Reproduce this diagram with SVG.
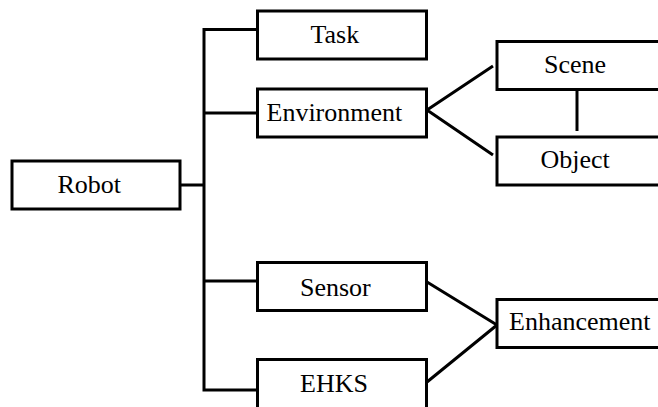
<svg xmlns="http://www.w3.org/2000/svg" width="658" height="407" viewBox="0 0 658 407">
<style>
.box{fill:#fff;stroke:#000;stroke-width:3}
.lbl{font-family:'Liberation Serif',Tinos,'Times New Roman',Times,'DejaVu Serif',serif;font-size:26px;fill:#000}
.con{fill:none;stroke:#000;stroke-width:3}
</style>
<rect width="658" height="407" fill="#fff"/>
<g id="connectors">
<path class="con" d="M181,185 H204 M257,29.5 H204 V390 H257 M204,113 H257 M204,281 H257"/>
<path class="con" d="M427,110 L493,66 M427,110 L493,155"/>
<path class="con" d="M577,89 V131"/>
<path class="con" d="M427,282 L497,325 M427,382 L497,325"/>
</g>
<g id="robot"><rect class="box" x="12" y="161" width="168" height="48"/><text class="lbl" font-family="Liberation Serif, serif" x="57.5" y="193">Robot</text></g>
<g id="task"><rect class="box" x="257.5" y="11" width="169" height="48"/><text class="lbl" x="310.5" y="43">Task</text></g>
<g id="environment"><rect class="box" x="257.5" y="89" width="169" height="48"/><text class="lbl" x="266.5" y="120.5">Environment</text></g>
<g id="scene"><rect class="box" x="497" y="41.5" width="170" height="48"/><text class="lbl" x="544" y="72.5">Scene</text></g>
<g id="object"><rect class="box" x="497" y="137" width="170" height="48"/><text class="lbl" x="540.5" y="168">Object</text></g>
<g id="sensor"><rect class="box" x="257.5" y="262.5" width="169" height="48"/><text class="lbl" x="300" y="295.5">Sensor</text></g>
<g id="ehks"><rect class="box" x="257.5" y="359.5" width="169" height="60"/><text class="lbl" x="300" y="391.5">EHKS</text></g>
<g id="enhancement"><rect class="box" x="497" y="299.5" width="170" height="48"/><text class="lbl" x="509" y="330">Enhancement</text></g>
</svg>
